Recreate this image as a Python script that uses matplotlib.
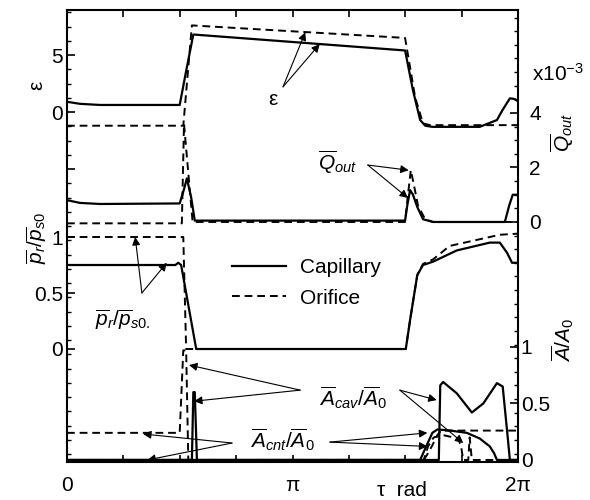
import numpy as np
import matplotlib.pyplot as plt
from matplotlib.ticker import MultipleLocator

plt.rcParams['font.family'] = 'Liberation Sans'
plt.rcParams['mathtext.fontset'] = 'custom'
plt.rcParams['mathtext.rm'] = 'Liberation Sans'
plt.rcParams['mathtext.it'] = 'Liberation Sans:italic'
plt.rcParams['font.size'] = 15

# eccentricity eps
eps_cap_t = [0, 0.18, 0.46, 1.57, 1.66, 1.76, 4.71, 4.82, 4.92, 4.99, 5.09, 5.75, 5.99, 6.07, 6.17, 6.23, 6.28]
eps_cap = [0.9, 0.72, 0.62, 0.62, 3.6, 6.8, 5.4, 1.9, -0.7, -1.2, -1.3, -1.3, -0.7, 0.2, 1.2, 1.15, 0.95]
eps_ori_t = [0, 1.62, 1.74, 4.71, 4.85, 4.96, 5.06, 6.28]
eps_ori = [-1.2, -1.2, 7.6, 6.5, 1.3, -1.0, -1.15, -1.15]

# outflow Q_out (x1e-3)
q_cap_t = [0, 0.18, 0.46, 1.57, 1.63, 1.67, 1.73, 1.78, 4.71, 4.74, 4.78, 4.82, 4.88, 4.96, 5.10, 6.10, 6.16, 6.21, 6.28]
q_cap = [0.8, 0.7, 0.66, 0.68, 1.2, 1.6, 0.9, 0.05, 0.05, 0.6, 1.17, 1.0, 0.55, 0.1, 0.0, 0.0, 0.6, 1.0, 1.0]
q_ori_t = [0, 1.60, 1.63, 1.70, 1.75, 4.71, 4.75, 4.79, 4.83, 4.89, 4.99, 5.10, 6.28]
q_ori = [-0.05, -0.05, 3.6, 1.5, 0.0, 0.0, 1.0, 1.9, 1.4, 0.6, 0.1, 0.0, 0.0]

# recess pressure p_r/p_s0
p_cap_t = [0, 1.51, 1.55, 1.59, 1.80, 4.72, 4.78, 4.88, 4.96, 5.10, 5.43, 5.89, 6.03, 6.13, 6.20, 6.28]
p_cap = [0.75, 0.75, 0.77, 0.75, 0.0, 0.0, 0.26, 0.66, 0.75, 0.78, 0.88, 0.95, 0.95, 0.86, 0.77, 0.77]
p_ori_t = [0, 1.62, 1.66, 4.72, 4.78, 4.88, 4.96, 5.10, 5.33, 5.89, 6.03, 6.28]
p_ori = [1.0, 1.0, 0.0, 0.0, 0.26, 0.66, 0.76, 0.8, 0.92, 1.0, 1.02, 1.03]

# areas A/A0
acav_cap_t = [0, 1.74, 1.76, 1.78, 1.81, 5.18, 5.20, 5.24, 5.43, 5.64, 5.80, 5.99, 6.07, 6.14, 6.17, 6.28]
acav_cap = [0, 0, 0.6, 0.6, 0, 0, 0.66, 0.69, 0.59, 0.42, 0.5, 0.68, 0.65, 0.2, 0, 0]
acnt_cap_t = [0, 4.92, 4.99, 5.09, 5.16, 5.34, 5.57, 5.75, 5.89, 5.95, 5.99, 6.28]
acnt_cap = [0, 0, 0.1, 0.24, 0.27, 0.26, 0.24, 0.19, 0.12, 0.06, 0, 0]
acnt_ori_t = [0, 1.57, 1.62, 1.66, 1.69, 4.97, 5.03, 5.09, 5.16, 5.21, 6.28]
acnt_ori = [0.24, 0.24, 0.97, 0.97, 0, 0, 0.06, 0.13, 0.22, 0.26, 0.26]
acav_ori_t = [0, 4.97, 5.03, 5.11, 5.24, 5.45, 5.49, 5.52, 5.59, 5.61, 5.64, 6.28]
acav_ori = [0, 0, 0.12, 0.2, 0.22, 0.19, 0.12, 0, 0, 0.2, 0, 0]

sol = dict(color='k', lw=1.6)
das = dict(color='k', lw=1.4, ls=(0, (4, 2.5)))

fig = plt.figure(figsize=(5.9, 5.0), dpi=100)
rect = [67/590, 38/500, 451/590, 452/500]
ax = fig.add_axes(rect)
ax_p = fig.add_axes(rect)
ax_q = fig.add_axes(rect)
ax_a = fig.add_axes(rect)

for a in (ax, ax_p, ax_q, ax_a):
    a.set_xlim(0, 2*np.pi)
for a in (ax_p, ax_q, ax_a):
    a.patch.set_visible(False)
    for s in a.spines.values():
        s.set_visible(False)
    a.tick_params(axis='x', which='both', bottom=False, top=False, labelbottom=False)
for s in ax.spines.values():
    s.set_linewidth(1.5)

ax.set_ylim(-30.7, 8.95)
ax_p.set_ylim(-1.009, 3.027)
ax_q.set_ylim(-8.81, 7.78)
ax_a.set_ylim(-0.018, 3.982)

ax.plot(eps_cap_t, eps_cap, **sol)
ax.plot(eps_ori_t, eps_ori, **das)
ax_q.plot(q_cap_t, q_cap, **sol)
ax_q.plot(q_ori_t, q_ori, **das)
ax_p.plot(p_cap_t, p_cap, label='Capillary', **sol)
ax_p.plot(p_ori_t, p_ori, label='Orifice', **das)
ax_a.plot(acav_cap_t, acav_cap, **sol)
ax_a.plot(acnt_cap_t, acnt_cap, **sol)
ax_a.plot(acnt_ori_t, acnt_ori, **das)
ax_a.plot(acav_ori_t, acav_ori, **das)

ax_p.legend(loc='center left', bbox_to_anchor=(0.366, 0.396), frameon=False,
            handlelength=2.6, handletextpad=0.65, labelspacing=0.55,
            borderpad=0, borderaxespad=0)

# ticks
ax.set_xticks(np.arange(9)*np.pi/4)
ax.set_xticklabels(['0', '', '', '', 'π', '', '', '', '2π'])
ax.tick_params(axis='x', direction='in', top=True, length=5, width=1.2, pad=10)
ax.set_yticks([-5, 0, 5])
ax.set_yticklabels(['', '0', '5'])
ax.yaxis.set_minor_locator(MultipleLocator(1.25))
ax.tick_params(axis='y', which='major', direction='in', length=6, width=1.2, pad=3)
ax.tick_params(axis='y', which='minor', direction='in', length=3, width=1)

ax_p.set_yticks([0, 0.5, 1])
ax_p.set_yticklabels(['0', '0.5', '1'])
ax_p.tick_params(axis='y', direction='in', length=6, width=1.2, pad=3)

ax_q.yaxis.tick_right()
ax_q.set_yticks([0, 2, 4])
ax_q.yaxis.set_minor_locator(MultipleLocator(0.5))
ax_q.tick_params(axis='y', which='major', direction='in', length=6, width=1.2, pad=8)
ax_q.tick_params(axis='y', which='minor', direction='in', length=3, width=1)

ax_a.yaxis.tick_right()
ax_a.set_yticks([0, 0.5, 1])
ax_a.set_yticklabels(['0', '0.5', '1'])
ax_a.tick_params(axis='y', direction='in', length=6, width=1.2, pad=2)

# axis labels
fig.text(37/590, 1-85/500, 'ε', rotation=90, ha='center', va='center')
fig.text(37/590, 1-238/500, r'$\overline{p}_r/\overline{p}_{s0}$', rotation=90, ha='center', va='center')
fig.text(558/590, 1-74/500, r'x10$^{-3}$', ha='center', va='center')
fig.text(562/590, 1-132/500, r'$\overline{Q}_{out}$', rotation=90, ha='center', va='center')
fig.text(563/590, 1-340/500, r'$\overline{A}/A_0$', rotation=90, ha='center', va='center')
ax.text(0.743, -0.062, 'τ  rad', transform=ax.transAxes, ha='center', va='center')

# in-plot labels
ax.text(0.457, 0.801, 'ε', transform=ax.transAxes, ha='center', va='center')
ax.text(0.599, 0.663, r'$\overline{Q}_{out}$', transform=ax.transAxes, ha='center', va='center')
ax.text(0.124, 0.314, r'$\overline{p}_r/\overline{p}_{s0.}$', transform=ax.transAxes, ha='center', va='center')
ax.text(0.634, 0.143, r'$\overline{A}_{cav}/\overline{A}_0$', transform=ax.transAxes, ha='center', va='center')
ax.text(0.477, 0.049, r'$\overline{A}_{cnt}/\overline{A}_0$', transform=ax.transAxes, ha='center', va='center')


def arrow(tail, target_ax, head):
    ax_a.annotate('', xy=head, xycoords=target_ax.transData,
                  xytext=tail, textcoords=ax.transAxes,
                  arrowprops=dict(arrowstyle='-|>', color='k', lw=0.8,
                                  mutation_scale=12, shrinkA=0, shrinkB=0))


arrow((0.479, 0.830), ax, (3.32, 7.0))
arrow((0.479, 0.830), ax, (3.52, 5.96))
arrow((0.667, 0.657), ax_q, (4.76, 1.9))
arrow((0.667, 0.657), ax_q, (4.75, 0.88))
arrow((0.166, 0.374), ax_p, (0.95, 1.0))
arrow((0.166, 0.374), ax_p, (1.39, 0.77))
arrow((0.517, 0.159), ax_a, (1.70, 0.84))
arrow((0.517, 0.159), ax_a, (1.77, 0.52))
arrow((0.738, 0.159), ax_a, (5.15, 0.53))
arrow((0.738, 0.159), ax_a, (5.52, 0.15))
arrow((0.366, 0.042), ax_a, (1.06, 0.23))
arrow((0.366, 0.042), ax_a, (1.12, 0.0))
arrow((0.583, 0.044), ax_a, (5.02, 0.24))
arrow((0.583, 0.044), ax_a, (5.02, 0.12))

fig.savefig('out.png', dpi=100)
